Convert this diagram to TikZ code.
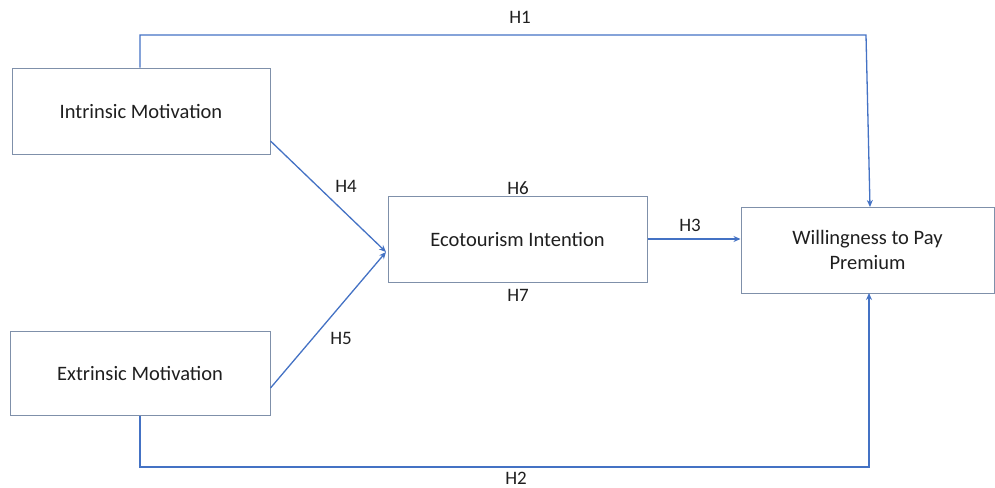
\documentclass[tikz,border=0pt]{standalone}
\usepackage{fontspec}
\setmainfont{Carlito}
\usetikzlibrary{arrows.meta}
\definecolor{lineblue}{HTML}{4472C4}
\definecolor{boxedge}{HTML}{7F90AA}
\begin{document}
\begin{tikzpicture}[x=1pt,y=-1pt,
  box/.style={draw=boxedge,line width=1pt,fill=white,inner sep=0pt,align=center,font=\fontsize{20.5}{25}\selectfont,text=black!88},
  conn/.style={draw=lineblue,line width=1.3pt,-{Stealth[length=7pt,width=6pt]}},
  hlab/.style={font=\fontsize{19}{22}\selectfont,text=black!88,inner sep=0pt}]
\useasboundingbox (0,0) rectangle (995,487);
\node[box,minimum width=258pt,minimum height=86pt] (im) at (141,111) {Intrinsic Motivation};
\node[box,minimum width=260pt,minimum height=84pt] (em) at (140,373) {Extrinsic Motivation};
\node[box,minimum width=259pt,minimum height=86pt] (eco) at (517.5,239) {Ecotourism Intention};
\node[box,minimum width=253pt,minimum height=86pt] (wtp) at (867.5,250) {Willingness to Pay\\Premium};
\coordinate (conv) at (386,252);
\coordinate (t1) at (140,35);
\coordinate (t2) at (866,35);
\coordinate (b1) at (140,467);
\coordinate (b2) at (869,467);
\draw[conn] (im.south east |- 0,141) -- (conv);
\draw[conn] (em.north east |- 0,388) -- (conv);
\draw[conn] (im.north -| t1) -- (t1) -- (t2) -- (870,207);
\draw[conn] (em.south -| b1) -- (b1) -- (b2) -- (869,293);
\draw[conn] (eco.east) -- (wtp.west |- eco.east);
\node[hlab] (h1) at (520,17) {H1};
\node[hlab] (h2) at (516,478) {H2};
\node[hlab] (h3) at (690,225) {H3};
\node[hlab] (h4) at (346,186) {H4};
\node[hlab] (h5) at (341,338) {H5};
\node[hlab] (h6) at (518,188) {H6};
\node[hlab] (h7) at (518,295) {H7};
\end{tikzpicture}
\end{document}
